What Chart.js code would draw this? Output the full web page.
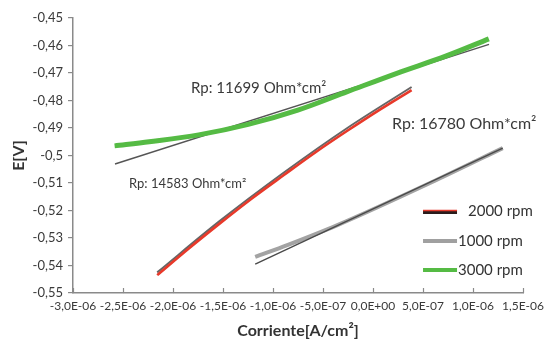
<!DOCTYPE html>
<html>
<head>
<meta charset="utf-8">
<script src="https://cdn.jsdelivr.net/npm/chart.js@4.4.1/dist/chart.umd.min.js"></script>
<style>
  html, body { margin: 0; padding: 0; background: #fff; }
  #wrap { width: 550px; height: 350px; }
</style>
</head>
<body>
<div id="wrap"><canvas id="polChart" width="550" height="350"></canvas></div>
<script>
  // ---------- Data ----------
  // 3000 rpm measured curve
  const rpm3000X = [-2.584e-6, -2.238e-6, -1.743e-6, -1.248e-6, -0.752e-6, -0.257e-6, 0.238e-6, 0.733e-6, 1.158e-6];
  const rpm3000Y = [-0.4965, -0.4950, -0.4925, -0.4887, -0.4835, -0.4768, -0.4701, -0.4638, -0.4576];
  // 3000 rpm linear fit
  const fit3000X = [-2.58e-6, 1.16e-6];
  const fit3000Y = [-0.5031, -0.4596];

  // 2000 rpm measured curve
  const rpm2000X = [-2.158e-6, -1.842e-6, -1.525e-6, -1.218e-6, -0.891e-6, -0.574e-6, -0.257e-6, 0.069e-6, 0.386e-6];
  const rpm2000Y = [-0.5435, -0.5338, -0.5245, -0.5158, -0.5071, -0.4988, -0.4910, -0.4833, -0.4762];
  // 2000 rpm fit (sits just above the red curve)
  const fit2000X = [-2.158e-6, -1.525e-6, -0.891e-6, -0.257e-6, 0.386e-6];
  const fit2000Y = [-0.5425, -0.5236, -0.5062, -0.4900, -0.4751];

  // 1000 rpm measured curve
  const rpm1000X = [-1.178e-6, -0.851e-6, -0.356e-6, 0.634e-6, 1.297e-6];
  const rpm1000Y = [-0.5369, -0.5325, -0.5253, -0.5089, -0.4973];
  // 1000 rpm linear fit
  const fit1000X = [-1.178e-6, 1.297e-6];
  const fit1000Y = [-0.5395, -0.4973];

  const legendLabels = ["2000 rpm", "1000 rpm", "3000 rpm"];
  const rpLabels = ["Rp: 11699 Ohm*cm\u00b2", "Rp: 16780 Ohm*cm\u00b2", "Rp: 14583 Ohm*cm\u00b2"];
  const rpLabelX = [-1.82e-6, 0.19e-6, -2.44e-6];
  const rpLabelY = [-0.4755, -0.4885, -0.5103];

  const X_MIN = -3e-6, X_MAX = 1.5e-6, X_STEP = 5e-7;
  const Y_MIN = -0.55, Y_MAX = -0.45, Y_STEP = 0.01;

  // ---------- Utils ----------
  const pts = (xs, ys) => xs.map((x, i) => ({ x: x, y: ys[i] }));
  function fmtY(v) {
    return String(Math.round(v * 100) / 100).replace(".", ",");
  }
  function fmtX(v) {
    if (Math.abs(v) < 1e-12) v = 0;
    const s = v.toExponential(1).split("e");
    const m = s[0].replace(".", ",");
    let e = parseInt(s[1], 10);
    const sign = e < 0 ? "-" : "+";
    e = Math.abs(e);
    return m + "E" + sign + (e < 10 ? "0" + e : e);
  }

  const TXT = "#3a3a3a";
  const AXIS = "#8a8a8a";
  const FONT = "Lato, 'Open Sans', sans-serif";

  // ---------- Plugins ----------
  // x ticks point up into the plot area
  const innerTicks = {
    id: "innerTicks",
    afterDraw(chart) {
      const c = chart.ctx, xs = chart.scales.x, b = chart.chartArea.bottom;
      c.save();
      c.strokeStyle = AXIS;
      c.lineWidth = 1.2;
      xs.ticks.forEach(t => {
        const px = Math.round(xs.getPixelForValue(t.value)) + 0.5;
        c.beginPath();
        c.moveTo(px, b);
        c.lineTo(px, b - 5);
        c.stroke();
      });
      c.restore();
    }
  };

  // Rp texts, placed in data units
  const rpSizes = [15, 16, 13];
  const rpText = {
    id: "rpText",
    afterDatasetsDraw(chart) {
      const c = chart.ctx, xs = chart.scales.x, ys = chart.scales.y;
      c.save();
      c.fillStyle = TXT;
      c.textBaseline = "middle";
      c.textAlign = "left";
      rpLabels.forEach((t, i) => {
        c.font = rpSizes[i] + "px " + FONT;
        c.fillText(t, xs.getPixelForValue(rpLabelX[i]), ys.getPixelForValue(rpLabelY[i]));
      });
      c.restore();
    }
  };

  // legend box inside the plot, lower right
  const sideLegend = {
    id: "sideLegend",
    afterDatasetsDraw(chart) {
      const c = chart.ctx, a = chart.chartArea;
      const x0 = a.right - 100, y0 = a.bottom - 81, gap = 29;
      c.save();
      c.font = "15px " + FONT;
      c.fillStyle = "#333";
      c.textBaseline = "middle";
      c.lineCap = "butt";
      legendLabels.forEach((t, i) => {
        const y = y0 + i * gap;
        if (i === 0) {
          c.strokeStyle = "#2a1c1c"; c.lineWidth = 4;
          c.beginPath(); c.moveTo(x0, y); c.lineTo(x0 + 34, y); c.stroke();
          c.strokeStyle = "#e33a2c"; c.lineWidth = 1.5;
          c.beginPath(); c.moveTo(x0, y - 1.5); c.lineTo(x0 + 34, y - 1.5); c.stroke();
          c.fillText(t, x0 + 45, y - 1);
        } else {
          c.strokeStyle = i === 1 ? "#a0a0a0" : "#55bb44";
          c.lineWidth = 4;
          c.beginPath(); c.moveTo(x0, y); c.lineTo(x0 + 34, y); c.stroke();
          c.fillText(t, x0 + 35, y);
        }
      });
      c.restore();
    }
  };

  // ---------- Chart ----------
  const lineDs = (data, color, width, order) => ({
    data: data,
    borderColor: color,
    borderWidth: width,
    showLine: true,
    pointRadius: 0,
    cubicInterpolationMode: "monotone",
    fill: false,
    order: order
  });

  new Chart(document.getElementById("polChart").getContext("2d"), {
    type: "scatter",
    data: {
      datasets: [
        lineDs(pts(rpm2000X, rpm2000Y), "#e8392a", 2.6, 1),
        lineDs(pts(fit2000X, fit2000Y), "#666666", 2, 2),
        lineDs(pts(fit1000X, fit1000Y), "#4a4a4a", 1.4, 3),
        lineDs(pts(rpm1000X, rpm1000Y), "#a3a3a3", 4, 4),
        lineDs(pts(rpm3000X, rpm3000Y), "#55bb44", 5, 5),
        lineDs(pts(fit3000X, fit3000Y), "#555555", 1.4, 6)
      ]
    },
    options: {
      responsive: false,
      animation: false,
      devicePixelRatio: 1,
      layout: { padding: { left: 0, right: 22, top: 18, bottom: 0 } },
      plugins: { legend: { display: false }, tooltip: { enabled: false } },
      scales: {
        x: {
          type: "linear",
          min: X_MIN,
          max: X_MAX,
          afterFit: s => { s.height = 57; },
          afterBuildTicks: s => {
            s.ticks = [];
            for (let k = 0; k <= 9; k++) s.ticks.push({ value: X_MIN + k * X_STEP });
          },
          grid: { display: true, drawOnChartArea: false, tickLength: 0 },
          border: { display: true, color: AXIS, width: 1.5 },
          ticks: {
            padding: 6,
            maxRotation: 0,
            autoSkip: false,
            color: TXT,
            font: { family: FONT, size: 12 },
            callback: v => fmtX(v)
          },
          title: {
            display: true,
            text: "Corriente[A/cm\u00b2]",
            color: "#333",
            font: { family: FONT, size: 16, weight: "bold" },
            padding: { top: 4, bottom: 10 }
          }
        },
        y: {
          type: "linear",
          min: Y_MIN,
          max: Y_MAX,
          afterFit: s => { s.width = 73; },
          ticks: {
            stepSize: Y_STEP,
            padding: 5,
            color: TXT,
            font: { family: FONT, size: 13 },
            callback: v => fmtY(v)
          },
          grid: { display: true, drawOnChartArea: false, tickLength: 5, color: AXIS, lineWidth: 1.2 },
          border: { display: true, color: AXIS, width: 1.5 },
          title: {
            display: true,
            text: "E[V]",
            color: "#333",
            font: { family: FONT, size: 16, weight: "bold" },
            padding: { top: 9, bottom: 0 }
          }
        }
      }
    },
    plugins: [innerTicks, rpText, sideLegend]
  });
</script>
</body>
</html>
